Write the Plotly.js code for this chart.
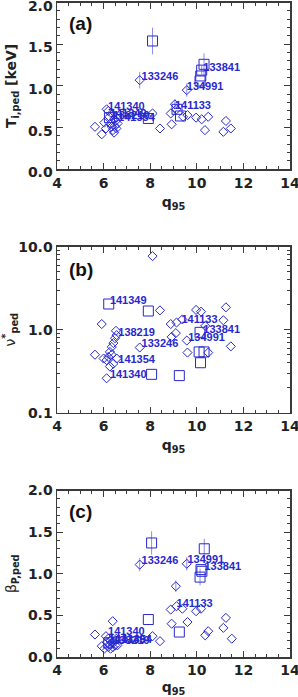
<!DOCTYPE html>
<html><head><meta charset="utf-8">
<script src="https://cdn.plot.ly/plotly-3.0.1.min.js"></script>
<style>html,body{margin:0;padding:0;background:#fff;}#chart{width:298px;height:697px;}</style>
</head><body><div id="chart"></div>
<script>
// ---------- Panel (a): T_i,ped [keV] vs q95 ----------
const aDiaX = [5.63,5.92,6.03,6.10,6.13,6.20,6.25,6.30,6.35,6.40,6.45,6.48,6.52,6.55,6.60,6.45,6.38,6.55,
               7.55,8.10,8.42,8.92,8.88,9.06,9.13,9.41,9.60,9.57,9.97,10.21,10.49,10.35,11.25,11.14,11.46];
const aDiaY = [0.51,0.42,0.56,0.49,0.72,0.70,0.63,0.55,0.51,0.47,0.44,0.52,0.58,0.62,0.55,0.60,0.66,0.49,
               1.07,0.67,0.49,0.54,0.67,0.78,0.72,0.63,0.65,0.95,0.62,0.60,0.63,0.47,0.58,0.45,0.49];
const aSqX = [8.10,7.92,9.15,9.30,10.31,10.21,10.17,10.14,6.25];
const aSqY = [1.54,0.61,0.72,0.64,1.26,1.19,1.12,1.06,0.62];
const aErrX = [8.10,10.31,7.55,9.57,9.06,10.21];
const aErrY = [1.54,1.26,1.07,0.95,0.78,1.19];
const aErrV = [0.16,0.13,0.10,0.08,0.06,0.05];
const aLabX = [6.19,6.27,6.40,6.62,7.63,9.57,9.06,10.28];
const aLabY = [0.75,0.66,0.64,0.61,1.10,0.98,0.76,1.21];
const aLabT = ['141340','141349','138219','141354','133246','134991','141133','133841'];

// ---------- Panel (b): nu*_ped vs q95 (log) ----------
const bDiaX = [5.63,5.92,6.00,6.13,6.27,6.42,6.56,6.20,6.27,6.35,6.42,6.49,6.56,6.53,6.13,6.35,
               8.10,7.55,8.42,8.88,8.92,9.10,9.13,9.38,9.57,9.60,9.97,10.18,10.36,10.49,11.14,11.25,11.46];
const bDiaY = [0.50,1.17,0.45,0.26,0.36,0.39,0.45,0.47,0.54,0.62,0.69,0.79,0.86,0.97,0.43,0.50,
               7.7,0.61,1.71,1.17,0.82,0.91,1.22,1.33,0.74,0.53,1.73,1.65,1.11,0.53,1.30,1.86,0.63];
const bSqX = [6.22,7.92,8.06,9.25,10.14,10.10,10.31,10.16];
const bSqY = [2.04,1.68,0.29,0.28,0.93,0.54,0.54,0.40];
const bLabX = [6.27,6.63,7.63,6.63,6.27,9.34,10.28,9.63];
const bLabY = [2.22,0.905,0.667,0.43,0.284,1.31,0.99,0.787];
const bLabT = ['141349','138219','133246','141354','141340','141133','133841','134991'];

// ---------- Panel (c): beta_P,ped vs q95 ----------
const cDiaX = [5.63,5.92,6.03,6.10,6.15,6.20,6.25,6.30,6.35,6.39,6.40,6.45,6.50,6.55,6.59,6.30,6.20,
               7.55,8.10,8.42,8.92,8.88,9.10,9.13,9.38,9.60,9.57,9.97,10.18,10.36,10.49,11.14,11.25,11.50];
const cDiaY = [0.27,0.13,0.10,0.25,0.18,0.12,0.15,0.20,0.17,0.43,0.12,0.18,0.14,0.22,0.14,0.10,0.22,
               1.11,0.25,0.19,0.40,0.57,0.85,0.61,0.58,0.42,1.12,0.55,0.58,0.26,0.31,0.35,0.47,0.22];
const cSqX = [8.06,7.92,9.25,10.32,10.18,10.22,10.14,6.22];
const cSqY = [1.37,0.45,0.30,1.30,1.05,1.03,0.96,0.17];
const cErrX = [8.06,10.32,10.14,7.55,9.57,9.10];
const cErrY = [1.37,1.30,0.96,1.11,1.12,0.85];
const cErrV = [0.14,0.12,0.10,0.08,0.08,0.07];
const cLabX = [7.63,9.60,10.33,9.13,6.19,6.22,6.40,6.50];
const cLabY = [1.147,1.167,1.075,0.636,0.295,0.20,0.19,0.20];
const cLabT = ['133246','134991','133841','141133','141340','141349','138219','141354'];

const blue = 'rgb(40,40,205)';
const errCol = 'rgba(120,120,235,0.85)';
const fontFam = 'Liberation Sans, Arial, sans-serif';
const axFam = 'DejaVu Sans, Liberation Sans, sans-serif';

function panel(xa, ya, dx, dy, sx, sy, ex, ey, ev, lx, ly, lt) {
  const out = [];
  if (ex) {
    out.push({type:'scatter', mode:'markers', x:ex, y:ey, xaxis:xa, yaxis:ya,
      marker:{size:1, color:'rgba(0,0,0,0)'}, hoverinfo:'skip', showlegend:false,
      error_y:{type:'data', array:ev, visible:true, color:errCol, thickness:1, width:0}});
  }
  out.push({type:'scatter', mode:'markers', x:dx, y:dy, xaxis:xa, yaxis:ya, showlegend:false,
    marker:{symbol:'diamond-open', size:7, color:blue, line:{width:1, color:blue}}});
  out.push({type:'scatter', mode:'markers', x:sx, y:sy, xaxis:xa, yaxis:ya, showlegend:false,
    marker:{symbol:'square-open', size:10, color:blue, line:{width:1, color:blue}}});
  out.push({type:'scatter', mode:'text', x:lx, y:ly, text:lt, xaxis:xa, yaxis:ya, showlegend:false,
    textposition:'middle right', cliponaxis:false,
    textfont:{family:fontFam, size:11, color:blue, weight:'bold'}});
  return out;
}

const data = [].concat(
  panel('x','y', aDiaX,aDiaY,aSqX,aSqY,aErrX,aErrY,aErrV,aLabX,aLabY,aLabT),
  panel('x2','y2', bDiaX,bDiaY,bSqX,bSqY,null,null,null,bLabX,bLabY,bLabT),
  panel('x3','y3', cDiaX,cDiaY,cSqX,cSqY,cErrX,cErrY,cErrV,cLabX,cLabY,cLabT)
);

const tickFont = {family:axFam, size:14, color:'#222', weight:'bold'};
const titleFont = {family:axFam, size:14, color:'#222', weight:'bold'};
const frame = {showline:true, linecolor:'#3a3a3a', linewidth:1.5, mirror:'allticks',
  ticks:'inside', ticklen:6, tickwidth:1, tickcolor:'#3a3a3a', showgrid:false, zeroline:false,
  tickfont:tickFont, ticklabeloverflow:'allow'};

function xaxis(anchor) {
  return Object.assign({}, frame, {anchor:anchor, domain:[0,1], range:[4,14.0001], dtick:2, tick0:4,
    minor:{dtick:0.5, ticks:'inside', ticklen:3, tickcolor:'#3a3a3a', showgrid:false},
    title:{text:'q<sub>95</sub>', font:titleFont, standoff:7}});
}
function linY(anchor, dom, title, shift) {
  return Object.assign({}, frame, {anchor:anchor, domain:dom, range:[0,2.0001], dtick:0.5, tick0:0,
    tickformat:'.1f', ticklabelshift:shift,
    minor:{dtick:0.1, ticks:'inside', ticklen:3, tickcolor:'#3a3a3a', showgrid:false},
    title:{text:title, font:titleFont, standoff:8}});
}

const layout = {
  width:298, height:697, paper_bgcolor:'#fff', plot_bgcolor:'#fff',
  margin:{l:57, r:8, t:0, b:40}, showlegend:false,
  font:{family:fontFam},
  xaxis: xaxis('y'),
  xaxis2: xaxis('y2'),
  xaxis3: xaxis('y3'),
  yaxis: linY('x', [0.7423,0.996], 'T<sub>i,ped</sub> [keV]', 3),
  yaxis2: Object.assign({}, frame, {anchor:'x2', domain:[0.3718,0.6245], type:'log', range:[-1.0001,1.0001],
    tickvals:[0.1,1,10], ticktext:['0.1','1.0','10.0'],
    minor:{tickvals:[0.2,0.3,0.4,0.5,0.6,0.7,0.8,0.9,2,3,4,5,6,7,8,9], ticks:'inside', ticklen:3, tickcolor:'#3a3a3a', showgrid:false},
    title:{text:'<span style="font-weight:normal">ν</span><sup>*</sup><sub>ped</sub>', font:titleFont, standoff:8}}),
  yaxis3: linY('x3', [0,0.2534], '<span style="font-weight:normal">β</span><sub>P,ped</sub>', 0),
  annotations:[
    {xref:'x domain', yref:'y domain', x:0.045, y:0.876, xanchor:'left', yanchor:'middle', showarrow:false,
     text:'(a)', font:{family:fontFam, size:19, color:'#111', weight:'bold'}},
    {xref:'x2 domain', yref:'y2 domain', x:0.045, y:0.86, xanchor:'left', yanchor:'middle', showarrow:false,
     text:'(b)', font:{family:fontFam, size:19, color:'#111', weight:'bold'}},
    {xref:'x3 domain', yref:'y3 domain', x:0.045, y:0.873, xanchor:'left', yanchor:'middle', showarrow:false,
     text:'(c)', font:{family:fontFam, size:19, color:'#111', weight:'bold'}}
  ]
};

Plotly.newPlot('chart', data, layout, {displayModeBar:false, staticPlot:true});
</script></body></html>
